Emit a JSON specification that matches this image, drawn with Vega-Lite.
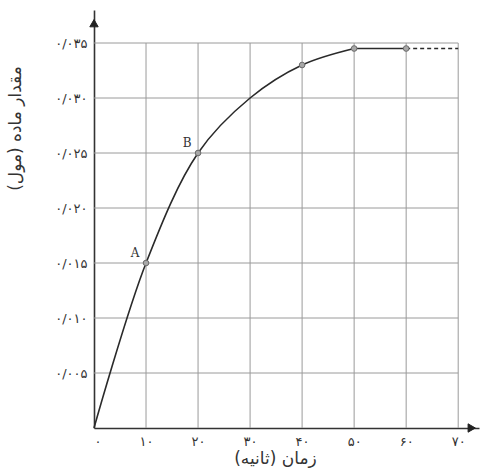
{
  "$schema": "https://vega.github.io/schema/vega-lite/v6.json",
  "width": 385,
  "height": 418,
  "autosize": {"type": "none"},
  "padding": {"left": 94, "top": 10, "right": 5, "bottom": 45},
  "background": "white",
  "config": {"view": {"stroke": null}},
  "datasets": {
    "grid": [
      {"x": 10, "x2": 10, "y": 0, "y2": 0.035},
      {"x": 20, "x2": 20, "y": 0, "y2": 0.035},
      {"x": 30, "x2": 30, "y": 0, "y2": 0.035},
      {"x": 40, "x2": 40, "y": 0, "y2": 0.035},
      {"x": 50, "x2": 50, "y": 0, "y2": 0.035},
      {"x": 60, "x2": 60, "y": 0, "y2": 0.035},
      {"x": 70, "x2": 70, "y": 0, "y2": 0.035},
      {"x": 0, "x2": 70, "y": 0.005, "y2": 0.005},
      {"x": 0, "x2": 70, "y": 0.010, "y2": 0.010},
      {"x": 0, "x2": 70, "y": 0.015, "y2": 0.015},
      {"x": 0, "x2": 70, "y": 0.020, "y2": 0.020},
      {"x": 0, "x2": 70, "y": 0.025, "y2": 0.025},
      {"x": 0, "x2": 70, "y": 0.030, "y2": 0.030},
      {"x": 0, "x2": 70, "y": 0.035, "y2": 0.035}
    ],
    "curve": [
      {"t": 0, "n": 0},
      {"t": 10, "n": 0.015},
      {"t": 20, "n": 0.025},
      {"t": 30, "n": 0.030},
      {"t": 40, "n": 0.033},
      {"t": 50, "n": 0.0345}
    ],
    "flat": [
      {"t": 50, "n": 0.0345},
      {"t": 60, "n": 0.0345}
    ],
    "dash": [
      {"t": 60, "n": 0.0345},
      {"t": 70, "n": 0.0345}
    ],
    "dots": [
      {"t": 10, "n": 0.015, "label": "A"},
      {"t": 20, "n": 0.025, "label": "B"},
      {"t": 40, "n": 0.033, "label": ""},
      {"t": 50, "n": 0.0345, "label": ""},
      {"t": 60, "n": 0.0345, "label": ""}
    ],
    "xarrow": [{"t": 72.6, "n": 0}],
    "yarrow": [{"t": 0, "n": 0.0368}]
  },
  "layer": [
    {
      "data": {"name": "grid"},
      "mark": {"type": "rule", "color": "#9a9a9a", "strokeWidth": 1},
      "encoding": {
        "x": {
          "field": "x", "type": "quantitative",
          "scale": {"domain": [0, 74], "nice": false, "zero": false},
          "axis": {
            "values": [0, 10, 20, 30, 40, 50, 60, 70],
            "format": "d",
            "labelExpr": "{'0':'۰','10':'۱۰','20':'۲۰','30':'۳۰','40':'۴۰','50':'۵۰','60':'۶۰','70':'۷۰'}[datum.label]",
            "grid": false,
            "ticks": false,
            "domainColor": "#333333",
            "domainWidth": 1.6,
            "labelFont": "DejaVu Sans",
            "labelFontSize": 13,
            "labelColor": "#333333",
            "labelPadding": 7,
            "title": "زمان (ثانیه)‏",
            "titleFont": "DejaVu Sans",
            "titleFontSize": 17,
            "titleFontWeight": "normal",
            "titleColor": "#333333",
            "titleX": 181,
            "titleY": 22,
            "titleBaseline": "top",
            "titleAnchor": null
          }
        },
        "x2": {"field": "x2"},
        "y": {
          "field": "y", "type": "quantitative",
          "scale": {"domain": [0, 0.038], "nice": false, "zero": false},
          "axis": {
            "values": [0.005, 0.010, 0.015, 0.020, 0.025, 0.030, 0.035],
            "format": ".3f",
            "labelExpr": "{'0.005':'۰/۰۰۵','0.010':'۰/۰۱۰','0.015':'۰/۰۱۵','0.020':'۰/۰۲۰','0.025':'۰/۰۲۵','0.030':'۰/۰۳۰','0.035':'۰/۰۳۵'}[datum.label]",
            "grid": false,
            "ticks": false,
            "domainColor": "#333333",
            "domainWidth": 1.6,
            "labelFont": "DejaVu Sans",
            "labelFontSize": 13,
            "labelColor": "#333333",
            "labelPadding": 7,
            "title": "مقدار ماده (مول)‏",
            "titleFont": "DejaVu Sans",
            "titleFontSize": 17,
            "titleFontWeight": "normal",
            "titleColor": "#333333",
            "titleAngle": -90,
            "titleX": -87,
            "titleY": 118,
            "titleAlign": "center",
            "titleBaseline": "top"
          }
        },
        "y2": {"field": "y2"}
      }
    },
    {
      "data": {"name": "curve"},
      "mark": {"type": "line", "interpolate": "catmull-rom", "color": "#2a2a2a", "strokeWidth": 1.6},
      "encoding": {
        "x": {"field": "t", "type": "quantitative"},
        "y": {"field": "n", "type": "quantitative"}
      }
    },
    {
      "data": {"name": "flat"},
      "mark": {"type": "line", "color": "#2a2a2a", "strokeWidth": 1.6},
      "encoding": {
        "x": {"field": "t", "type": "quantitative"},
        "y": {"field": "n", "type": "quantitative"}
      }
    },
    {
      "data": {"name": "dash"},
      "mark": {"type": "line", "color": "#2a2a2a", "strokeWidth": 1.6, "strokeDash": [4, 3]},
      "encoding": {
        "x": {"field": "t", "type": "quantitative"},
        "y": {"field": "n", "type": "quantitative"}
      }
    },
    {
      "data": {"name": "dots"},
      "mark": {"type": "point", "filled": true, "fill": "#a8a8a8", "stroke": "#6a6a6a", "strokeWidth": 1, "size": 32, "opacity": 1},
      "encoding": {
        "x": {"field": "t", "type": "quantitative"},
        "y": {"field": "n", "type": "quantitative"}
      }
    },
    {
      "data": {"name": "dots"},
      "mark": {"type": "text", "font": "DejaVu Serif", "fontSize": 12, "color": "#333333", "dx": -11, "dy": -10, "align": "center", "baseline": "middle"},
      "encoding": {
        "x": {"field": "t", "type": "quantitative"},
        "y": {"field": "n", "type": "quantitative"},
        "text": {"field": "label"}
      }
    },
    {
      "data": {"name": "xarrow"},
      "mark": {"type": "point", "shape": "triangle-right", "filled": true, "fill": "#222222", "stroke": "#222222", "strokeWidth": 1, "size": 70, "opacity": 1},
      "encoding": {
        "x": {"field": "t", "type": "quantitative"},
        "y": {"field": "n", "type": "quantitative"}
      }
    },
    {
      "data": {"name": "yarrow"},
      "mark": {"type": "point", "shape": "triangle-up", "filled": true, "fill": "#222222", "stroke": "#222222", "strokeWidth": 1, "size": 70, "opacity": 1},
      "encoding": {
        "x": {"field": "t", "type": "quantitative"},
        "y": {"field": "n", "type": "quantitative"}
      }
    }
  ]
}
